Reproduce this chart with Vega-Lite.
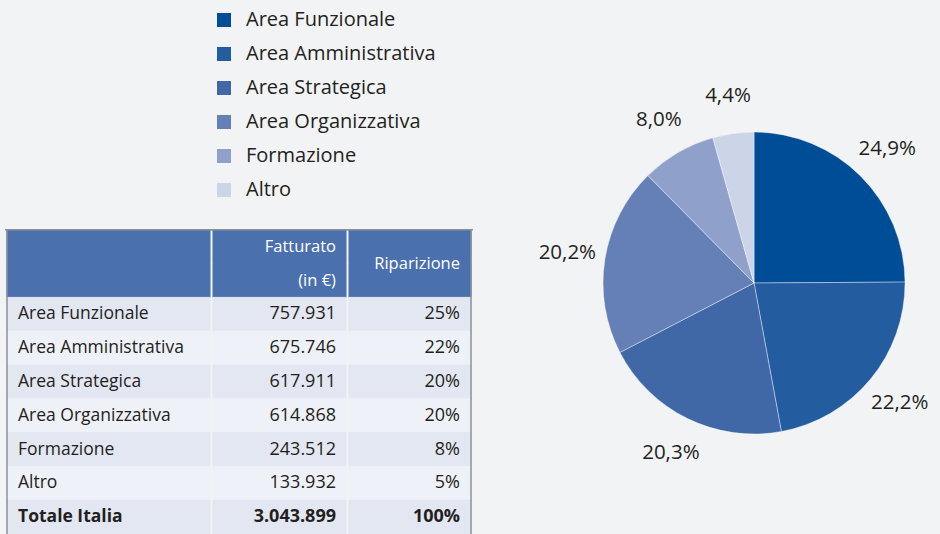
{
  "$schema": "https://vega.github.io/schema/vega-lite/v6.json",
  "background": "#f2f3f5",
  "padding": {"left": 5, "top": 0, "right": 0, "bottom": 0},
  "bounds": "flush",
  "spacing": 3,
  "resolve": {"scale": {"x": "independent", "y": "independent"}},
  "config": {
    "view": {"stroke": null},
    "font": "Open Sans",
    "text": {"font": "Open Sans", "color": "#231f20"}
  },
  "datasets": {
    "pie": [
      {"cat": "Area Funzionale", "v": 757931, "lab": "24,9%", "o": 1},
      {"cat": "Area Amministrativa", "v": 675746, "lab": "22,2%", "o": 2},
      {"cat": "Area Strategica", "v": 617911, "lab": "20,3%", "o": 3},
      {"cat": "Area Organizzativa", "v": 614868, "lab": "20,2%", "o": 4},
      {"cat": "Formazione", "v": 243512, "lab": "8,0%", "o": 5},
      {"cat": "Altro", "v": 133932, "lab": "4,4%", "o": 6}
    ],
    "table": [
      {"r": "h1", "kind": "header", "c1": "", "c2": "Fatturato", "c3": "Riparizione"},
      {"r": "h2", "kind": "header", "c1": "", "c2": "(in €)", "c3": ""},
      {"r": "Area Funzionale", "kind": "a", "c1": "Area Funzionale", "c2": "757.931", "c3": "25%"},
      {"r": "Area Amministrativa", "kind": "b", "c1": "Area Amministrativa", "c2": "675.746", "c3": "22%"},
      {"r": "Area Strategica", "kind": "a", "c1": "Area Strategica", "c2": "617.911", "c3": "20%"},
      {"r": "Area Organizzativa", "kind": "b", "c1": "Area Organizzativa", "c2": "614.868", "c3": "20%"},
      {"r": "Formazione", "kind": "a", "c1": "Formazione", "c2": "243.512", "c3": "8%"},
      {"r": "Altro", "kind": "b", "c1": "Altro", "c2": "133.932", "c3": "5%"},
      {"r": "Totale Italia", "kind": "total", "c1": "Totale Italia", "c2": "3.043.899", "c3": "100%"}
    ]
  },
  "hconcat": [
    {
      "width": 203,
      "height": 534,
      "data": {"name": "table"},
      "encoding": {
        "y": {"field": "r", "type": "nominal", "axis": null,
          "scale": {"domain": ["h1", "h2", "Area Funzionale", "Area Amministrativa", "Area Strategica", "Area Organizzativa", "Formazione", "Altro", "Totale Italia"], "range": [229.8, 534], "paddingInner": 0, "paddingOuter": 0}}
      },
      "layer": [
        {
          "mark": {"type": "rect", "strokeWidth": 1},
          "encoding": {
            "x": {"datum": "c", "type": "nominal", "axis": null, "scale": {"paddingInner": 0, "paddingOuter": 0}},
            "fill": {"condition": [{"test": "datum.kind === 'header'", "value": "#4a70ae"}, {"test": "datum.kind === 'b'", "value": "#eff1f8"}], "value": "#e3e7f1"},
            "stroke": {"condition": [{"test": "datum.kind === 'header'", "value": "#4a70ae"}, {"test": "datum.kind === 'b'", "value": "#eff1f8"}], "value": "#e3e7f1"}
          }
        },
        {
          "mark": {"type": "tick", "orient": "vertical", "thickness": 1.5, "size": 34, "color": "#8c9099", "opacity": 1},
          "encoding": {
            "x": {"datum": "c", "type": "nominal", "bandPosition": 0}
          }
        },
        {
          "transform": [{"filter": "datum.r === 'h1'"}],
          "mark": {"type": "tick", "orient": "horizontal", "thickness": 1.5, "size": 207, "color": "#8c9099", "opacity": 1},
          "encoding": {
            "x": {"datum": "c", "type": "nominal", "bandPosition": 0.5},
            "y": {"field": "r", "type": "nominal", "bandPosition": 0}
          }
        },
        {
          "transform": [{"filter": "datum.kind === 'a' || datum.kind === 'b'"}],
          "mark": {"type": "text", "align": "left", "baseline": "middle", "dx": 11, "fontSize": 17.5},
          "encoding": {
            "x": {"datum": "c", "type": "nominal", "bandPosition": 0},
            "text": {"field": "c1"}
          }
        },
        {
          "transform": [{"filter": "datum.kind === 'total'"}],
          "mark": {"type": "text", "align": "left", "baseline": "middle", "dx": 11, "fontSize": 17.5, "fontWeight": "bold"},
          "encoding": {
            "x": {"datum": "c", "type": "nominal", "bandPosition": 0},
            "text": {"field": "c1"}
          }
        }
      ]
    },
    {
      "width": 133,
      "height": 534,
      "data": {"name": "table"},
      "encoding": {
        "y": {"field": "r", "type": "nominal", "axis": null,
          "scale": {"domain": ["h1", "h2", "Area Funzionale", "Area Amministrativa", "Area Strategica", "Area Organizzativa", "Formazione", "Altro", "Totale Italia"], "range": [229.8, 534], "paddingInner": 0, "paddingOuter": 0}}
      },
      "layer": [
        {
          "mark": {"type": "rect", "strokeWidth": 1},
          "encoding": {
            "x": {"datum": "c", "type": "nominal", "axis": null, "scale": {"paddingInner": 0, "paddingOuter": 0}},
            "fill": {"condition": [{"test": "datum.kind === 'header'", "value": "#4a70ae"}, {"test": "datum.kind === 'b'", "value": "#eff1f8"}], "value": "#e3e7f1"},
            "stroke": {"condition": [{"test": "datum.kind === 'header'", "value": "#4a70ae"}, {"test": "datum.kind === 'b'", "value": "#eff1f8"}], "value": "#e3e7f1"}
          }
        },
        {
          "transform": [{"filter": "datum.r === 'h1'"}],
          "mark": {"type": "tick", "orient": "horizontal", "thickness": 1.5, "size": 139, "color": "#8c9099", "opacity": 1},
          "encoding": {
            "x": {"datum": "c", "type": "nominal", "bandPosition": 0.5},
            "y": {"field": "r", "type": "nominal", "bandPosition": 0}
          }
        },
        {
          "transform": [{"filter": "datum.kind === 'a' || datum.kind === 'b'"}],
          "mark": {"type": "text", "align": "right", "baseline": "middle", "dx": -10, "fontSize": 18},
          "encoding": {
            "x": {"datum": "c", "type": "nominal", "bandPosition": 1},
            "text": {"field": "c2"}
          }
        },
        {
          "transform": [{"filter": "datum.kind === 'total'"}],
          "mark": {"type": "text", "align": "right", "baseline": "middle", "dx": -10, "fontSize": 18, "fontWeight": "bold"},
          "encoding": {
            "x": {"datum": "c", "type": "nominal", "bandPosition": 1},
            "text": {"field": "c2"}
          }
        },
        {
          "transform": [{"filter": "datum.kind === 'header'"}],
          "mark": {"type": "text", "align": "right", "baseline": "middle", "dx": -10, "fontSize": 16.5, "color": "#ffffff"},
          "encoding": {
            "x": {"datum": "c", "type": "nominal", "bandPosition": 1},
            "text": {"field": "c2"}
          }
        }
      ]
    },
    {
      "width": 122,
      "height": 534,
      "data": {"name": "table"},
      "encoding": {
        "y": {"field": "r", "type": "nominal", "axis": null,
          "scale": {"domain": ["h1", "h2", "Area Funzionale", "Area Amministrativa", "Area Strategica", "Area Organizzativa", "Formazione", "Altro", "Totale Italia"], "range": [229.8, 534], "paddingInner": 0, "paddingOuter": 0}}
      },
      "layer": [
        {
          "mark": {"type": "rect", "strokeWidth": 1},
          "encoding": {
            "x": {"datum": "c", "type": "nominal", "axis": null, "scale": {"paddingInner": 0, "paddingOuter": 0}},
            "fill": {"condition": [{"test": "datum.kind === 'header'", "value": "#4a70ae"}, {"test": "datum.kind === 'b'", "value": "#eff1f8"}], "value": "#e3e7f1"},
            "stroke": {"condition": [{"test": "datum.kind === 'header'", "value": "#4a70ae"}, {"test": "datum.kind === 'b'", "value": "#eff1f8"}], "value": "#e3e7f1"}
          }
        },
        {
          "mark": {"type": "tick", "orient": "vertical", "thickness": 1.5, "size": 34, "color": "#8c9099", "opacity": 1},
          "encoding": {
            "x": {"datum": "c", "type": "nominal", "bandPosition": 1}
          }
        },
        {
          "transform": [{"filter": "datum.r === 'h1'"}],
          "mark": {"type": "tick", "orient": "horizontal", "thickness": 1.5, "size": 126, "color": "#8c9099", "opacity": 1},
          "encoding": {
            "x": {"datum": "c", "type": "nominal", "bandPosition": 0.5},
            "y": {"field": "r", "type": "nominal", "bandPosition": 0}
          }
        },
        {
          "transform": [{"filter": "datum.kind === 'a' || datum.kind === 'b'"}],
          "mark": {"type": "text", "align": "right", "baseline": "middle", "dx": -11, "fontSize": 18},
          "encoding": {
            "x": {"datum": "c", "type": "nominal", "bandPosition": 1},
            "text": {"field": "c3"}
          }
        },
        {
          "transform": [{"filter": "datum.kind === 'total'"}],
          "mark": {"type": "text", "align": "right", "baseline": "middle", "dx": -11, "fontSize": 18, "fontWeight": "bold"},
          "encoding": {
            "x": {"datum": "c", "type": "nominal", "bandPosition": 1},
            "text": {"field": "c3"}
          }
        },
        {
          "transform": [{"filter": "datum.r === 'h1'"}],
          "mark": {"type": "text", "align": "right", "baseline": "middle", "dx": -11, "fontSize": 16.5, "color": "#ffffff"},
          "encoding": {
            "x": {"datum": "c", "type": "nominal", "bandPosition": 1},
            "y": {"field": "r", "type": "nominal", "bandPosition": 1},
            "text": {"field": "c3"}
          }
        }
      ]
    },
    {
      "width": 466,
      "height": 534,
      "data": {"name": "pie"},
      "encoding": {
        "theta": {"field": "v", "type": "quantitative", "stack": true},
        "order": {"field": "o", "type": "quantitative"},
        "x": {"datum": "pie", "type": "nominal", "axis": null, "scale": {"type": "point", "align": 0.6009}},
        "y": {"datum": "pie", "type": "nominal", "axis": null, "scale": {"type": "point", "align": 0.530}}
      },
      "layer": [
        {
          "mark": {"type": "arc", "outerRadius": 151, "stroke": "#ffffff", "strokeWidth": 0.4},
          "encoding": {
            "color": {
              "field": "cat", "type": "nominal",
              "scale": {
                "domain": ["Area Funzionale", "Area Amministrativa", "Area Strategica", "Area Organizzativa", "Formazione", "Altro"],
                "range": ["#004d97", "#235c9f", "#4068a7", "#6480b6", "#8fa1ca", "#ccd4e7"]
              },
              "legend": {
                "orient": "none", "legendX": 207, "legendY": 10, "title": null, "padding": 0,
                "symbolType": "square", "symbolSize": 196, "symbolStrokeWidth": 0, "symbolOpacity": 1,
                "labelFont": "Open Sans", "labelFontSize": 20, "labelColor": "#231f20", "labelOffset": 12,
                "rowPadding": 14, "labelLimit": 400
              }
            }
          }
        },
        {
          "mark": {"type": "text", "radius": 189, "fontSize": 20.5, "align": "center", "baseline": "middle"},
          "encoding": {
            "text": {"field": "lab"}
          }
        }
      ]
    }
  ]
}
